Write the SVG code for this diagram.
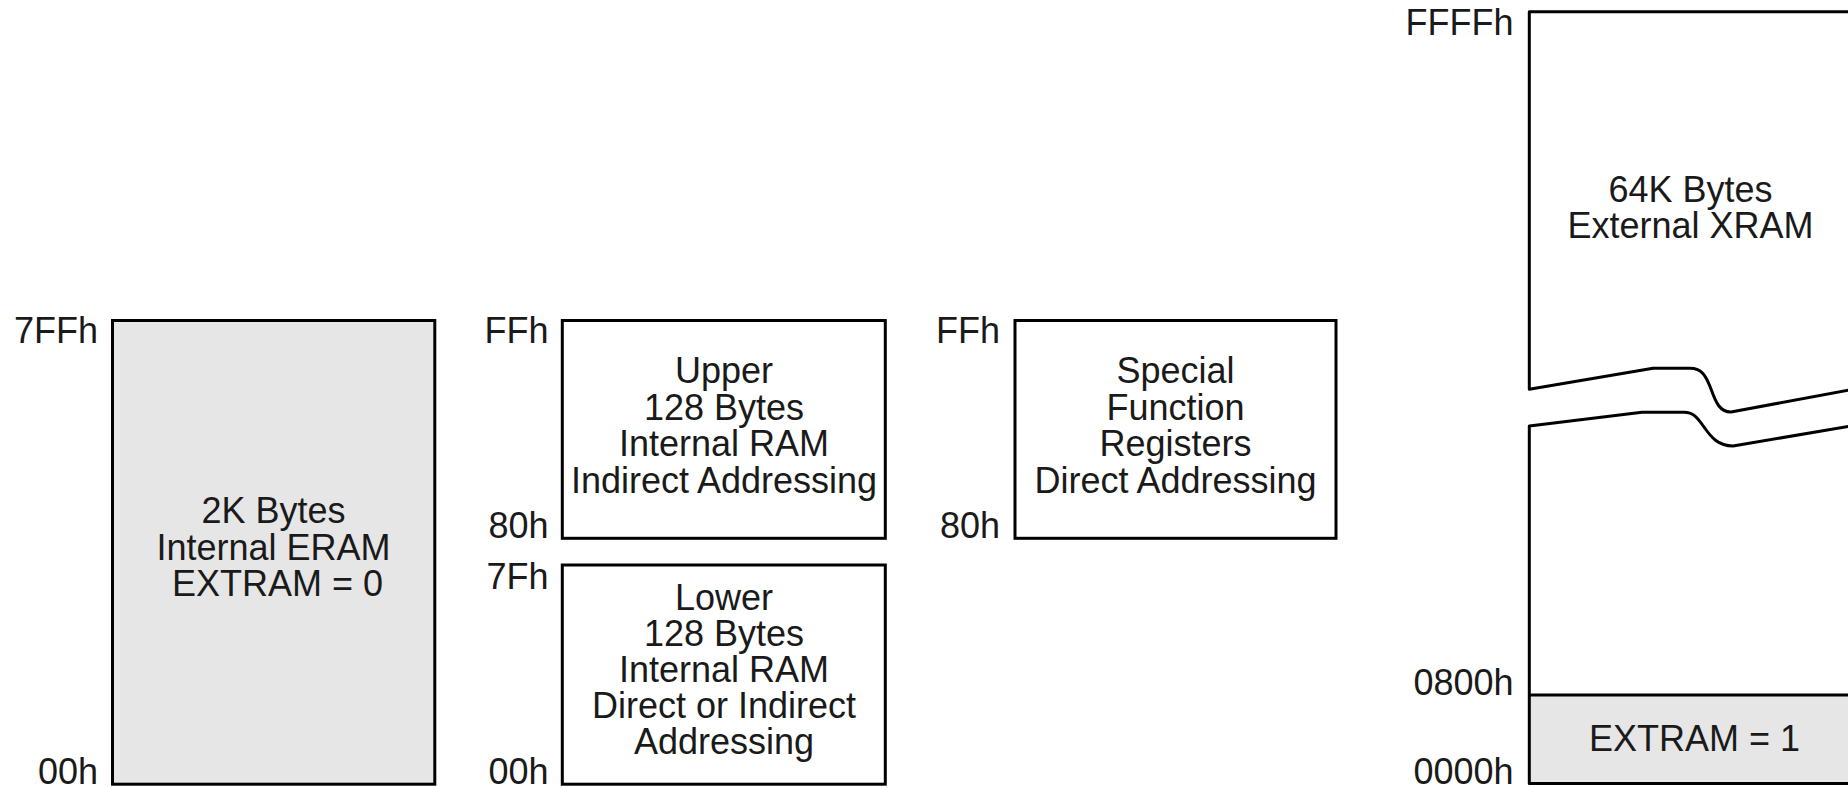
<svg xmlns="http://www.w3.org/2000/svg" width="1848" height="788" viewBox="0 0 1848 788">
<style>
.box{fill:#fff;stroke:#000;stroke-width:3}
.gray{fill:#e6e6e6}
.ln{fill:none;stroke:#000;stroke-width:3;stroke-linejoin:round}
text{font-family:"Liberation Sans",Arial,sans-serif;font-size:36px;fill:#1a1a1a}
.c{text-anchor:middle}
.r{text-anchor:end}
</style>
<rect width="1848" height="788" fill="#fff"/>
<g id="eram">
<rect x="112.5" y="320.5" width="322.3" height="463.7" class="box gray"/>
<text class="r" x="98" y="343">7FFh</text>
<text class="r" x="98" y="784">00h</text>
<text class="c" x="273.5" y="523">2K Bytes</text>
<text class="c" x="273.5" y="560">Internal ERAM</text>
<text class="c" x="277.5" y="596">EXTRAM = 0</text>
</g>
<g id="upper128">
<rect x="562.3" y="320.5" width="323" height="217.8" class="box"/>
<text class="r" x="548.5" y="343">FFh</text>
<text class="r" x="548.5" y="537.5">80h</text>
<text class="c" x="724" y="383.3">Upper</text>
<text class="c" x="724" y="419.5">128 Bytes</text>
<text class="c" x="724" y="456">Internal RAM</text>
<text class="c" x="724" y="492.7">Indirect Addressing</text>
</g>
<g id="lower128">
<rect x="562.3" y="565" width="323" height="219.2" class="box"/>
<text class="r" x="548.5" y="589.3">7Fh</text>
<text class="r" x="548.5" y="784">00h</text>
<text class="c" x="724" y="610">Lower</text>
<text class="c" x="724" y="646">128 Bytes</text>
<text class="c" x="724" y="682">Internal RAM</text>
<text class="c" x="724" y="718">Direct or Indirect</text>
<text class="c" x="724" y="754">Addressing</text>
</g>
<g id="sfr">
<rect x="1015" y="320.5" width="321" height="217.8" class="box"/>
<text class="r" x="1000" y="343">FFh</text>
<text class="r" x="1000" y="537.5">80h</text>
<text class="c" x="1175.5" y="383.3">Special</text>
<text class="c" x="1175.5" y="419.5">Function</text>
<text class="c" x="1175.5" y="456">Registers</text>
<text class="c" x="1175.5" y="492.7">Direct Addressing</text>
</g>
<g id="xram">
<rect x="1529.3" y="695" width="330" height="88.5" class="gray"/>
<path class="ln" d="M1860,11.7 H1529.3 V389.3 L1653,368.3 H1690 C1702,368.3 1706,376 1711,389 C1716,403 1720,412 1731,412 L1860,388"/>
<path class="ln" d="M1860,424.5 L1733,446 C1718,446 1711,437 1704,427 C1697,417 1693,412.3 1684,412.3 H1642 L1529.3,426 V783.5 H1860"/>
<line class="ln" x1="1529.3" y1="695" x2="1860" y2="695"/>
<text class="r" x="1513.5" y="35">FFFFh</text>
<text class="r" x="1513.5" y="695">0800h</text>
<text class="r" x="1513.5" y="784">0000h</text>
<text class="c" x="1690.5" y="201.7">64K Bytes</text>
<text class="c" x="1690.5" y="237.7">External XRAM</text>
<text class="c" x="1694.5" y="750.5">EXTRAM = 1</text>
</g>
</svg>
